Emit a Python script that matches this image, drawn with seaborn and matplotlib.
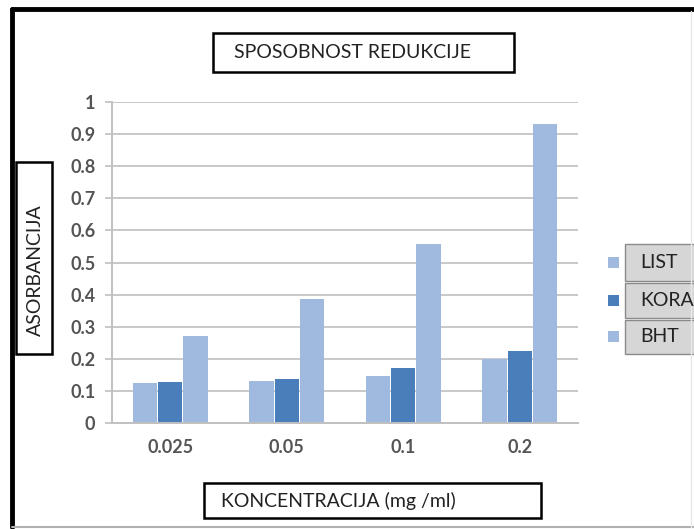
import pandas as pd
import numpy as np
import matplotlib
matplotlib.use("Agg")
import matplotlib.pyplot as plt
from matplotlib.patches import Rectangle
from matplotlib.lines import Line2D
import seaborn as sns

# values
concentrations = ["0.025", "0.05", "0.1", "0.2"]
series = ["LIST", "KORA", "BHT"]
list_vals = [0.124, 0.132, 0.146, 0.198]
kora_vals = [0.127, 0.137, 0.172, 0.224]
bht_vals = [0.271, 0.387, 0.559, 0.933]
colors = ["#9fbade", "#4a7ebb", "#9fbade"]

df = pd.DataFrame({
    "konc": concentrations * 3,
    "serija": np.repeat(series, len(concentrations)),
    "vrijednost": list_vals + kora_vals + bht_vals,
})

W, H = 694, 529


def px_box(x0, y0, x1, y1, **kw):
    # rectangle given in picture pixels (top-left origin)
    return Rectangle((x0 / W, 1 - y1 / H), (x1 - x0) / W, (y1 - y0) / H,
                     transform=fig.transFigure, **kw)


sns.set_style("white")
plt.rcParams["font.family"] = ["Lato", "DejaVu Sans"]

fig = plt.figure(figsize=(W / 100, H / 100), dpi=100)
ax = fig.add_axes([112 / W, 1 - 423 / H, 466 / W, 321 / H])

sns.barplot(data=df, x="konc", y="vrijednost", hue="serija", order=concentrations,
            hue_order=series, palette=colors, width=0.65, gap=0.04, ax=ax,
            legend=False, edgecolor="none", saturation=1)

ax.set_ylim(0, 1)
ax.set_yticks(np.arange(0, 1.01, 0.1))
ax.set_yticklabels(["0", "0.1", "0.2", "0.3", "0.4", "0.5", "0.6", "0.7", "0.8", "0.9", "1"])
ax.yaxis.grid(True, color="#c8c8c8", lw=1.4)
ax.set_axisbelow(True)
ax.set_xlabel("")
ax.set_ylabel("")
for s in ["top", "right"]:
    ax.spines[s].set_visible(False)
for s in ["left", "bottom"]:
    ax.spines[s].set_color("#c0c0c0")
    ax.spines[s].set_linewidth(1.4)
ax.tick_params(axis="y", left=True, length=5, width=1.2, color="#c0c0c0", labelsize=13,
               labelcolor="#555555", pad=7)
ax.tick_params(axis="x", bottom=False, labelsize=13, labelcolor="#555555", pad=8)
for lab in ax.get_xticklabels() + ax.get_yticklabels():
    lab.set_fontweight("bold")

# outer frame: heavy black top/left, faint grey bottom/right
fig.add_artist(Line2D([12 / W, 1], [1 - 9 / H, 1 - 9 / H], transform=fig.transFigure,
                      color="black", lw=3.5))
fig.add_artist(Line2D([12 / W, 12 / W], [1 - 9 / H, 1 - 527 / H], transform=fig.transFigure,
                      color="black", lw=3.5))
fig.add_artist(Line2D([12 / W, 1], [1 - 527 / H, 1 - 527 / H], transform=fig.transFigure,
                      color="#b0b0b0", lw=1.5))
fig.add_artist(Line2D([691 / W, 691 / W], [1 - 11 / H, 1 - 527 / H], transform=fig.transFigure,
                      color="#e8e8e8", lw=1))

# title and axis label boxes
fig.patches.append(px_box(213, 33, 514, 72, fill=False, ec="black", lw=1.8))
fig.text(353 / W, 1 - 53 / H, "SPOSOBNOST REDUKCIJE", ha="center", va="center",
         fontsize=14, color="#222222")
fig.patches.append(px_box(204, 483, 541, 518, fill=False, ec="black", lw=1.8))
fig.text(338 / W, 1 - 501 / H, "KONCENTRACIJA (mg /ml)", ha="center", va="center",
         fontsize=14, color="#222222")
fig.patches.append(px_box(16, 162, 52, 354, fill=False, ec="black", lw=1.8))
fig.text(35 / W, 1 - 270 / H, "ASORBANCIJA", ha="center", va="center",
         rotation=90, fontsize=14, color="#222222")

# legend: small squares and grey label boxes
box_y = [(244, 281), (283, 318), (320, 354)]
for name, col, (b0, b1) in zip(series, colors, box_y):
    cy = (b0 + b1) / 2
    fig.patches.append(px_box(608, cy - 6, 619, cy + 5, fc=col, ec="none"))
    fig.patches.append(px_box(625, b0, 700, b1, fc="#d6d6d6", ec="#8a8a8a", lw=1))
    fig.text(640 / W, 1 - cy / H, name, ha="left", va="center",
             fontsize=14, color="#222222")

fig.savefig("out.png", dpi=100)
